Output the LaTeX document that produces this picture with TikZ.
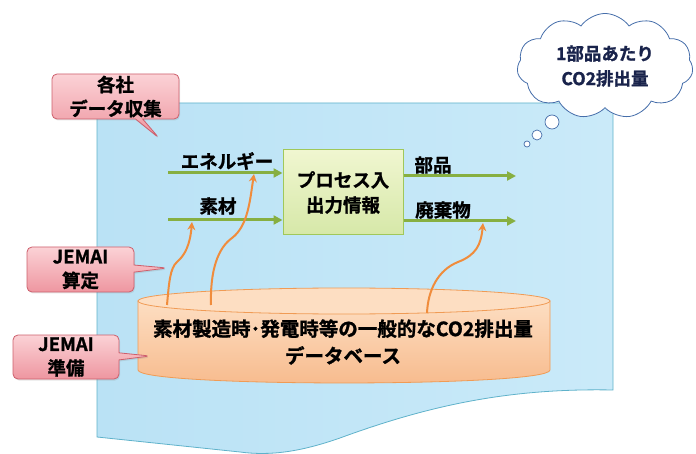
\documentclass[tikz,border=0pt]{standalone}
\usepackage{fontspec}
\setmainfont{Noto Sans CJK JP}[BoldFont={Noto Sans CJK JP Bold},BoldFeatures={FakeBold=1.2}]
\usetikzlibrary{shapes.callouts,shapes.symbols,arrows.meta,shadows}
\definecolor{docfill}{RGB}{186,226,245}
\definecolor{docfill2}{RGB}{202,234,249}
\definecolor{docline}{RGB}{95,178,202}
\definecolor{pinkT}{RGB}{251,210,214}
\definecolor{pinkB}{RGB}{238,150,160}
\definecolor{pinkline}{RGB}{205,95,108}
\definecolor{grnT}{RGB}{240,246,208}
\definecolor{grnB}{RGB}{214,232,168}
\definecolor{grnline}{RGB}{160,200,90}
\definecolor{grnarrow}{RGB}{135,175,65}
\definecolor{orng}{RGB}{240,140,60}
\definecolor{dbT}{RGB}{253,222,194}
\definecolor{dbB}{RGB}{247,186,140}
\definecolor{dbline}{RGB}{240,155,85}
\definecolor{cloudline}{RGB}{70,110,170}
\definecolor{cloudtext}{RGB}{25,35,75}
\tikzset{
  jtxt/.style={font=\fontsize{18.5}{25}\selectfont\bfseries, text=black},
  callbox/.style={rectangle callout, rounded corners=5pt, draw=pinkline, line width=0.8pt,
    top color=pinkT, bottom color=pinkB, align=center, inner sep=0pt,
    jtxt, font=\fontsize{18.5}{24}\selectfont\bfseries,
    drop shadow={opacity=0.2, shadow xshift=1pt, shadow yshift=-1.5pt}},
  garrow/.style={draw=grnarrow, line width=3pt, -{Triangle[length=9pt,width=9pt]}},
  oarrow/.style={draw=orng, line width=2pt, -{Stealth[length=8pt,width=8pt]}},
  bubble/.style={circle, draw=cloudline, fill=white, line width=0.7pt, inner sep=0pt},
}
\begin{document}
\begin{tikzpicture}[x=1pt,y=-1pt]
\useasboundingbox (0,0) rectangle (696,454);
% document shape
\path[left color=docfill, right color=docfill2, draw=docline, line width=0.8pt]
  (97,103) -- (613,103) -- (613,390)
  .. controls (510,388) and (430,405) .. (340,438)
  .. controls (300,452) and (270,456) .. (240,452)
  -- (97,437) -- cycle;
% database cylinder
\path[top color=dbT, bottom color=dbB, draw=dbline, line width=0.8pt]
  (138,301) -- (138,370) .. controls (138,387.3) and (550,387.3) .. (550,370)
  -- (550,301) -- cycle;
\path[fill=dbT, draw=dbline, line width=0.8pt] (344,301) ellipse [x radius=206, y radius=13];
\node[jtxt, align=center, font=\fontsize{19.5}{27}\selectfont\bfseries] (db) at (343,342)
  {素材製造時･発電時等の一般的なCO2排出量\\データベース};
% process box
\node[draw=grnline, line width=1pt, top color=grnT, bottom color=grnB,
  minimum width=120pt, minimum height=85pt, align=center, jtxt] (proc) at (343,192.5)
  {プロセス入\\出力情報};
% arrow coordinates
\coordinate (e0) at (168,173);
\coordinate (s0) at (168,220);
\coordinate (b1) at (516,176);
\coordinate (h1) at (516,221);
\coordinate (d1) at (167,305);
\coordinate (d2) at (211,305);
\coordinate (d3) at (427,313);
\coordinate (t1) at (192,222);
\coordinate (t2) at (254,174);
\coordinate (t3) at (483,223);
% green arrows
\draw[garrow] (e0) -- (e0 -| proc.west);
\draw[garrow] (s0) -- (s0 -| proc.west);
\draw[garrow] (b1 -| proc.east) -- (b1);
\draw[garrow] (h1 -| proc.east) -- (h1);
\node[jtxt] (lE) at (227,161) {エネルギー};
\node[jtxt] (lS) at (218,206) {素材};
\node[jtxt] (lB) at (433,165) {部品};
\node[jtxt] (lH) at (443,210) {廃棄物};
% orange arrows
\draw[oarrow] (d1) .. controls (169,283) and (170,268) .. (177,262)
  .. controls (185,255) and (190,245) .. (t1);
\draw[oarrow] (d2) .. controls (210,270) and (218,248) .. (232,238)
  .. controls (248,226) and (250,200) .. (t2);
\draw[oarrow] (d3) .. controls (428,290) and (438,270) .. (458,262)
  .. controls (476,255) and (481,245) .. (t3);
% callouts
\node[callbox, minimum width=127pt, minimum height=45pt,
  callout absolute pointer={(159,138)}] (c1) at (115.5,96.5) {各社\\データ収集};
\node[callbox, minimum width=107pt, minimum height=45pt,
  callout absolute pointer={(167,268)}] (c2) at (80.5,269.5) {JEMAI\\算定};
\node[callbox, minimum width=106pt, minimum height=44pt,
  callout absolute pointer={(150,356)}] (c3) at (66,357) {JEMAI\\準備};
% cloud
\node[cloud, cloud puffs=11, cloud puff arc=110, aspect=1.7, draw=cloudline, fill=white,
  line width=0.8pt, minimum width=176pt, minimum height=100pt, align=center,
  text=cloudtext, font=\fontsize{17.5}{25}\selectfont\bfseries] (cl) at (605,66)
  {1部品あたり\\CO2排出量};
\node[bubble, minimum size=14pt] (bb1) at (552,122) {};
\node[bubble, minimum size=10pt] (bb2) at (537,135) {};
\node[bubble, minimum size=6pt] (bb3) at (527,144) {};
\end{tikzpicture}
\end{document}
